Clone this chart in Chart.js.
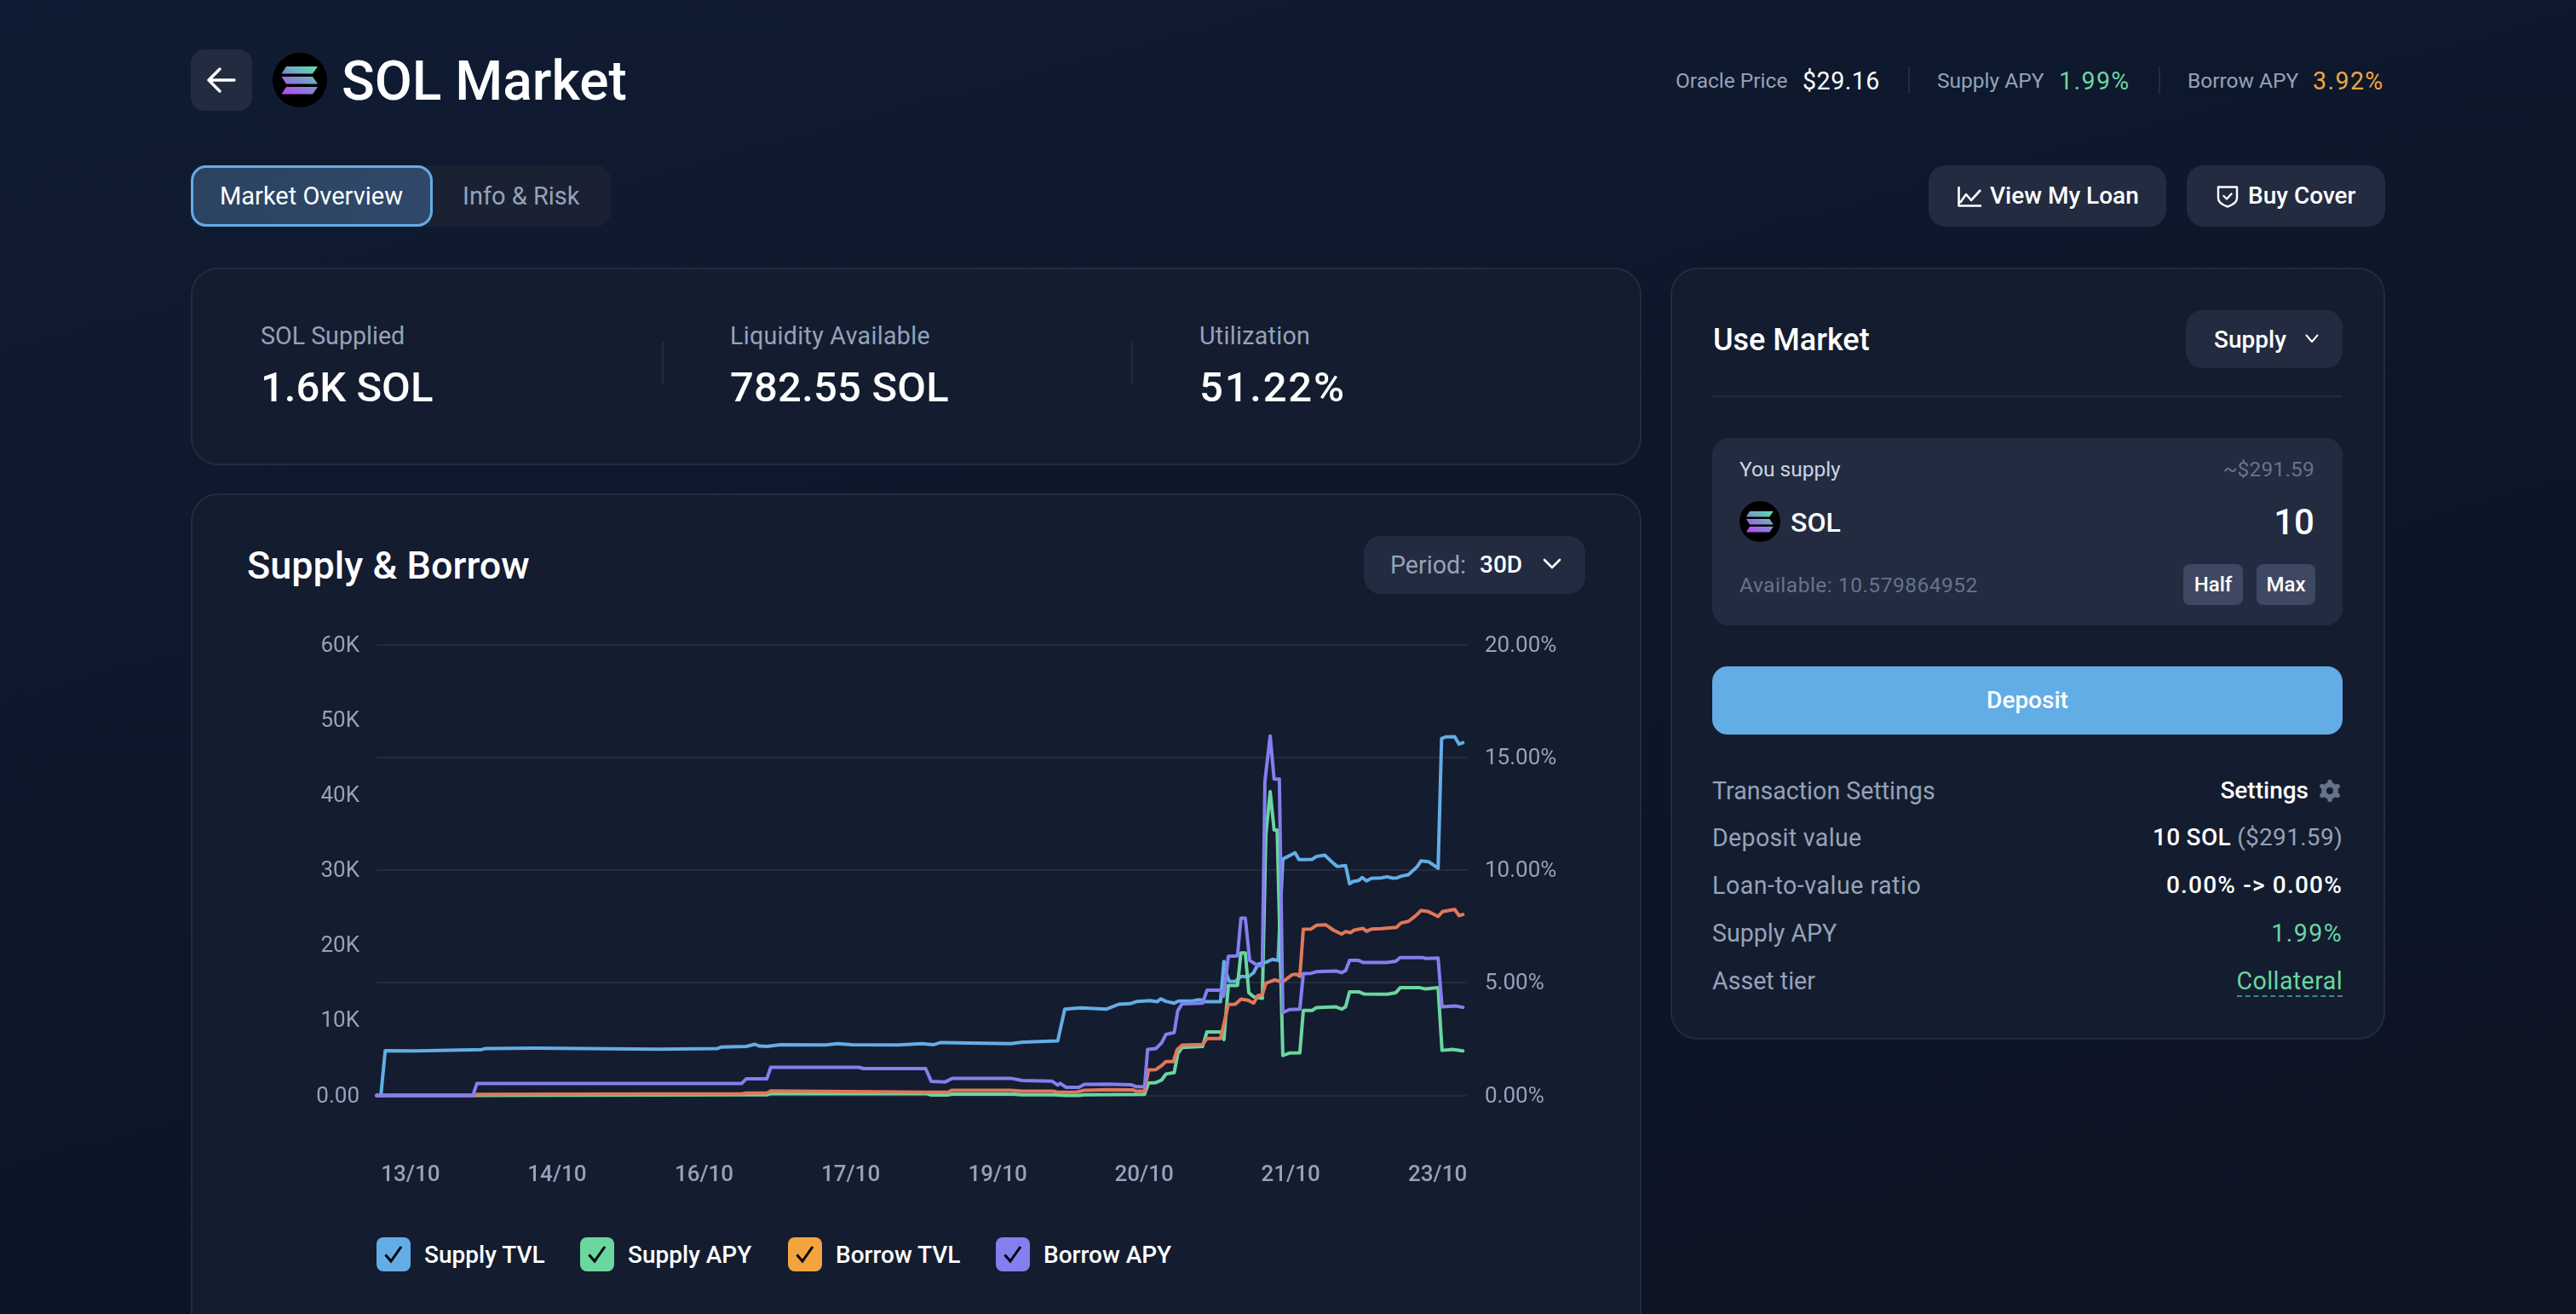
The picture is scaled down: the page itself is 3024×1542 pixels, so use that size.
<!DOCTYPE html>
<html><head><meta charset="utf-8">
<script src="https://cdn.jsdelivr.net/npm/chart.js@4"></script>
<style>
html,body{margin:0;padding:0;width:3024px;height:1542px;overflow:hidden;background:#0e1729}
body{background:linear-gradient(165deg,#101c33 0%,#0e182c 35%,#0c1526 70%,#0d1424 100%);font-family:Roboto,sans-serif;color:#fff;position:relative}
.b{position:absolute;box-sizing:border-box}
.t{position:absolute;white-space:nowrap;transform:translateY(-50%);line-height:1.2}
.m{color:#94a3b8}.d{color:#64748b}.g{color:#6ad6a0}.o{color:#f2a53f}
.card{background:#141c2f;border:2px solid #232b3d;border-radius:32px}
.btn{background:#232b40;border-radius:20px}
.s28{font-size:28.6px}.s24{font-size:24.5px}
.w5{font-weight:500;font-size:28px}
.w5.s24{font-size:24px}
.n{letter-spacing:.9px}
svg{position:absolute;display:block}
.lg{position:absolute;top:1452px;width:40px;height:40px;border-radius:8px}
</style></head><body>
<svg width="0" height="0" style="position:absolute"><defs>
<linearGradient id="sg" x1="0.15" y1="1" x2="0.85" y2="0"><stop offset="0" stop-color="#b44cf0"/><stop offset="0.5" stop-color="#7c8fd0"/><stop offset="1" stop-color="#5ce0a8"/></linearGradient>
<symbol id="sol" viewBox="0 0 64 64"><circle cx="32" cy="32" r="32" fill="#000"/><path fill="url(#sg)" d="M16 16h37l-6 8.500H10.500z M10.500 28h36.500l6 8.500H16z M16 40h37l-6 8.500H10.500z"/></symbol>
</defs></svg>

<div class="b" style="left:224px;top:58px;width:72px;height:72px;background:#232b40;border-radius:16px"></div>
<svg style="left:243px;top:78px" width="34" height="32" viewBox="0 0 34 32" fill="none" stroke="#fff" stroke-width="3.4" stroke-linecap="round" stroke-linejoin="round"><path d="M2 16h30M15 3L2 16l13 13"/></svg>
<svg style="left:320px;top:62px" width="64" height="64"><use href="#sol"/></svg>
<div class="t" style="left:401px;top:96px;font-size:64px;font-weight:500">SOL Market</div>

<div class="t m s24" style="left:1967px;top:95px">Oracle Price</div>
<div class="t s28 n" style="left:2116px;top:95px;letter-spacing:.5px">$29.16</div>
<div class="b" style="left:2240px;top:78px;width:2px;height:32px;background:#232b3d"></div>
<div class="t m s24" style="left:2274px;top:95px">Supply APY</div>
<div class="t g s28 n" style="left:2417px;top:95px;letter-spacing:1.4px">1.99%</div>
<div class="b" style="left:2534px;top:78px;width:2px;height:32px;background:#232b3d"></div>
<div class="t m s24" style="left:2568px;top:95px">Borrow APY</div>
<div class="t o s28 n" style="left:2715px;top:95px;letter-spacing:1.4px">3.92%</div>

<div class="b" style="left:224px;top:194px;width:493px;height:72px;background:#1a2133;border-radius:18px"></div>
<div class="b" style="left:224px;top:194px;width:284px;height:72px;background:linear-gradient(110deg,#2b4361,#30496a);border:3px solid #63ade6;border-radius:18px"></div>
<div class="t" style="left:258px;top:230px;font-size:29px">Market Overview</div>
<div class="t m" style="left:543px;top:230px;font-size:29px">Info &amp; Risk</div>

<div class="b btn" style="left:2264px;top:194px;width:279px;height:72px"></div>
<svg style="left:2298px;top:218px" width="29" height="25" viewBox="0 0 29 25" fill="none" stroke="#fff" stroke-width="2.6" stroke-linejoin="round"><path d="M1.500 1v22.500H28M3 20l7-10 6 7 11-12"/></svg>
<div class="t w5" style="left:2336px;top:230px">View My Loan</div>
<div class="b btn" style="left:2567px;top:194px;width:233px;height:72px"></div>
<svg style="left:2602px;top:217px" width="26" height="27" viewBox="0 0 26 27" fill="none" stroke="#fff" stroke-width="2.4" stroke-linejoin="round" stroke-linecap="round"><path d="M2 2.500h22v13c0 5-5 8-11 10-6-2-11-5-11-10z"/><path d="M8.500 13l3.500 3.500 5.500-6"/></svg>
<div class="t w5" style="left:2639px;top:230px">Buy Cover</div>

<div class="b card" style="left:224px;top:314px;width:1703px;height:232px"></div>
<div class="t m s28" style="left:306px;top:394px">SOL Supplied</div>
<div class="t" style="left:306px;top:455px;font-size:49px;font-weight:500">1.6K SOL</div>
<div class="b" style="left:777px;top:401px;width:2px;height:50px;background:#232b3d"></div>
<div class="t m s28" style="left:857px;top:394px;letter-spacing:.3px">Liquidity Available</div>
<div class="t" style="left:857px;top:455px;font-size:49px;font-weight:500;letter-spacing:.2px">782.55 SOL</div>
<div class="b" style="left:1328px;top:401px;width:2px;height:50px;background:#232b3d"></div>
<div class="t m s28" style="left:1408px;top:394px;letter-spacing:.3px">Utilization</div>
<div class="t" style="left:1408px;top:455px;font-size:49px;font-weight:500;letter-spacing:1.8px">51.22%</div>

<div class="b card" style="left:224px;top:579px;width:1703px;height:1100px"></div>
<div class="t" style="left:290px;top:664px;font-size:45px;font-weight:500">Supply &amp; Borrow</div>
<div class="b btn" style="left:1601px;top:629px;width:260px;height:68px;background:#232b40"></div>
<div class="t m s28" style="left:1632px;top:663px">Period:</div>
<div class="t w5" style="left:1737px;top:663px">30D</div>
<svg style="left:1811px;top:655px" width="22" height="14" viewBox="0 0 22 14" fill="none" stroke="#fff" stroke-width="2.6" stroke-linecap="round" stroke-linejoin="round"><path d="M2 2l9 9 9-9"/></svg>

<canvas id="c" width="1560" height="700" style="position:absolute;left:300px;top:720px;width:1560px;height:700px"></canvas>
<div id="legend"></div>

<div class="b card" style="left:1961px;top:314px;width:839px;height:906px"></div>
<div class="t" style="left:2011px;top:400px;font-size:36px;font-weight:500">Use Market</div>
<div class="b btn" style="left:2566px;top:364px;width:184px;height:68px"></div>
<div class="t w5" style="left:2599px;top:399px">Supply</div>
<svg style="left:2706px;top:392px" width="16" height="11" viewBox="0 0 16 11" fill="none" stroke="#fff" stroke-width="2" stroke-linecap="round" stroke-linejoin="round"><path d="M1.500 1.500L8 9l6.500-7.500"/></svg>
<div class="b" style="left:2010px;top:464px;width:740px;height:2px;background:#232b3d"></div>
<div class="b" style="left:2010px;top:514px;width:740px;height:220px;background:#232b40;border-radius:20px"></div>
<div class="t s24" style="left:2042px;top:551px;color:#cbd5e1">You supply</div>
<div class="t d s24" style="right:307px;top:551px;letter-spacing:.2px">~$291.59</div>
<svg style="left:2042px;top:588px" width="48" height="48"><use href="#sol"/></svg>
<div class="t" style="left:2102px;top:613px;font-size:32px;font-weight:500">SOL</div>
<div class="t" style="right:307px;top:613px;font-size:42px;font-weight:500">10</div>
<div class="t d s24" style="left:2042px;top:687px;letter-spacing:.5px">Available: 10.579864952</div>
<div class="b" style="left:2563px;top:662px;width:70px;height:48px;background:#3f4862;border-radius:8px"></div>
<div class="t w5 s24" style="left:2563px;width:70px;text-align:center;top:686px">Half</div>
<div class="b" style="left:2649px;top:662px;width:69px;height:48px;background:#3f4862;border-radius:8px"></div>
<div class="t w5 s24" style="left:2649px;width:69px;text-align:center;top:686px">Max</div>
<div class="b" style="left:2010px;top:782px;width:740px;height:80px;background:#63ade6;border-radius:18px"></div>
<div class="t w5" style="left:2010px;width:740px;text-align:center;top:822px">Deposit</div>

<div class="t m s28" style="left:2010px;top:928px">Transaction Settings</div>
<div class="t w5" style="right:314px;top:928px">Settings</div>
<svg style="left:2722px;top:915px" width="26" height="26" viewBox="0 0 26 26"><circle cx="13" cy="13" r="7" fill="none" stroke="#64748b" stroke-width="6"/><path stroke="#64748b" stroke-width="5.500" stroke-linecap="round" d="M13 2.500v3M13 20.500v3M3.900 7.700l2.600 1.500M19.500 16.800l2.600 1.500M3.900 18.300l2.600-1.500M19.500 9.200l2.600-1.500"/></svg>
<div class="t m s28" style="left:2010px;top:983px;letter-spacing:.3px">Deposit value</div>
<div class="t w5" style="right:274px;top:983px;letter-spacing:.3px">10 SOL <span class="m" style="font-weight:400">($291.59)</span></div>
<div class="t m s28" style="left:2010px;top:1039px;letter-spacing:.5px">Loan-to-value ratio</div>
<div class="t w5" style="right:274px;top:1039px;letter-spacing:1.2px">0.00% -&gt; 0.00%</div>
<div class="t m s28" style="left:2010px;top:1095px">Supply APY</div>
<div class="t g s28" style="right:274px;top:1095px;letter-spacing:1.400px">1.99%</div>
<div class="t m s28" style="left:2010px;top:1151px">Asset tier</div>
<div class="t g s28" style="right:274px;top:1151px;letter-spacing:.4px">Collateral</div>
<div class="b" style="left:2626px;top:1168px;width:124px;border-top:2px dashed #3f8f6e"></div>

<script>
const seriesNames = ["Supply TVL", "Supply APY", "Borrow TVL", "Borrow APY"];
const legendColors = ["#63ade6", "#6ad6a0", "#f2a53f", "#827fee"];
const legendLefts = [442, 681, 925, 1169];
const lineColors = ["#63ade6", "#6ad6a0", "#e0785a", "#827fee"];
const yLeftTicks = [0, 10, 20, 30, 40, 50, 60];
const yRightTicks = [0, 5, 10, 15, 20];
const xTickHours = [7.8, 41.4, 75.1, 108.7, 142.4, 176, 209.6, 243.3];
const xTickLabels = ["13/10", "14/10", "16/10", "17/10", "19/10", "20/10", "21/10", "23/10"];

const supplyTvlHours = [0,1,2,8.9,24.1,25,36.3,64.7,78.2,79,84.8,86.7,87.8,89.5,92.6,103,105.7,109,119.7,125,127.8,129.4,145.4,148.1,156.2,157.8,161.5,167.4,170.2,172.8,174.4,177.4,179,179.8,181,182.9,183.9,187.1,188.4,189.4,190,193.5,194.3,194.8,195.5,196.9,198.2,199.8,201.1,202.1,204,205.4,206.7,207.8,210.6,211.5,214.5,215.5,217.4,219.4,220.3,222.2,223.1,223.9,225.2,226,227,228.1,230.4,231.7,233,234,235,236.6,238.6,239.5,241.2,243.4,244.2,245.1,247.2,248.2,249.1];
const supplyTvl = [0,0,5.97,5.93,6.11,6.25,6.3,6.16,6.25,6.44,6.53,6.81,6.58,6.53,6.76,6.72,6.9,6.76,6.72,6.9,6.76,7.04,6.9,7.09,7.27,11.49,11.67,11.5,12.14,12.22,12.52,12.63,12.48,12.86,12.52,12.29,12.56,12.56,12.75,12.67,12.48,12.48,17.85,16.34,15.2,15.17,15.85,15.77,16.34,17.47,17.74,18.12,17.97,31.47,32.3,31.39,31.43,31.81,32,30.9,30.48,30.6,28.18,28.48,28.63,29.01,28.56,28.9,28.97,29.12,28.93,28.97,29.2,29.39,30.45,31.24,31.13,30.26,47.54,47.73,47.77,46.78,46.97];

const supplyApyHours = [0,22.1,84.8,89.5,90.4,109,126.1,127.2,131,132,146,148.1,155.1,158.3,161,162.3,176.1,177,178.7,180,181,182.9,183.7,184.7,189.4,190.4,193.5,194.3,195.3,197.4,198.2,199.2,200,201.1,203.1,203.9,204.9,205.8,206.5,207.8,209.3,211.7,212.5,214.5,215.5,220,221.3,222.2,223.1,225.2,226.5,231.7,233.7,234.7,239.2,240.5,243.4,244.3,246.7,249.1];
const supplyApy = [0,0,.03,.03,.08,.08,.08,.02,.02,.06,.06,.03,.03,0,0,.03,.05,.55,.57,.68,.95,1.01,1.85,2.13,2.17,2.82,2.82,2.48,4.88,4.88,6.33,6.33,4.56,4.38,4.31,11.56,13.48,11.78,11.78,1.77,1.88,1.89,3.77,3.77,3.9,3.93,3.83,3.93,4.6,4.6,4.5,4.49,4.56,4.78,4.78,4.73,4.78,2,2.04,1.98];

const borrowTvlHours = [0,22.1,23,83.9,84.8,89.5,90.4,109,126.1,131,132,145.4,148.1,155.1,156.2,160.4,162.3,167.6,173.5,174.1,176.1,177,178.7,180,181,182.7,183.6,184.7,189.4,190.4,193.5,195.3,196.9,198.2,199.8,201.1,202.1,203.1,203.9,206,207,208,209.9,210.9,211.7,212.5,214.3,215.5,217.6,219.4,221.3,222.2,223.3,224.1,226.2,227,228.1,230.4,233.9,234.9,236.6,238.2,239.5,241.2,243.4,244.4,247.2,248.2,249.1];
const borrowTvl = [0,0,.14,.23,.32,.32,.6,.5,.42,.42,.69,.69,.56,.56,.42,.42,.69,.76,.74,.57,.57,3.4,3.44,3.97,4.5,4.5,6.13,6.69,6.77,7.56,7.56,12.1,12.14,12.82,12.67,12.29,13.31,13.39,14.94,15.39,15.2,15.2,16.07,16.15,15.85,22.13,22.16,22.66,22.73,22.01,21.48,21.82,21.67,22.01,22.24,21.86,22.16,22.2,22.39,22.96,23.18,23.9,24.62,24.47,23.83,24.47,24.77,23.94,24.09];

const borrowApyHours = [0,22.1,23,83.7,84.8,89.5,90.4,110.6,111.7,125.9,127.2,130.4,132,145.4,148.1,154.9,156.2,156.7,158.1,161,162.3,167.6,173.1,174.1,176.1,176.8,178.7,180,181,182.9,183.7,184.7,189.4,190.4,193.5,194.2,195.3,197.4,198.2,199.2,200.2,202.1,203.1,203.7,204.9,205.8,207,207.8,209.3,211.7,212.5,214.3,215.5,220,221.3,222.2,223.1,225.2,226.2,231.7,233.7,234.7,239.9,240.5,243.4,244.3,247.4,249.1];
const borrowApy = [0,0,.525,.525,.74,.74,1.25,1.25,1.19,1.19,.62,.6,.76,.76,.66,.63,.46,.54,.36,.36,.49,.5,.47,.39,.39,2.04,2.08,2.33,2.71,2.79,3.75,4.07,4.09,4.67,4.67,4.4,6.17,6.19,7.87,7.87,5.99,5.76,5.76,13.96,15.95,14.04,14.04,3.68,3.81,3.83,5.41,5.42,5.49,5.52,5.45,5.54,5.99,5.99,5.9,5.9,5.96,6.12,6.12,6.08,6.1,3.93,3.97,3.91];

const toPoints = (xs, ys) => xs.map((x, i) => ({ x, y: ys[i] }));
const tick = "#94a3b8", family = "Roboto, sans-serif";

const lg = document.getElementById("legend");
seriesNames.forEach((n, i) => {
  const l = legendLefts[i];
  lg.insertAdjacentHTML("beforeend",
    `<div class="lg" style="left:${l}px;background:${legendColors[i]}"></div>
     <svg style="left:${l + 8}px;top:1461px" width="24" height="22" viewBox="0 0 24 22" fill="none" stroke="#000" stroke-width="3"><path d="M2.500 11.500l6.500 7.500 12-17"/></svg>
     <div class="t w5" style="left:${l + 56}px;top:1473px">${n}</div>`);
});

const ds = (i, xs, ys, axis, order) => ({
  label: seriesNames[i], data: toPoints(xs, ys), yAxisID: axis, order,
  borderColor: lineColors[i], borderWidth: 4, pointRadius: 0, tension: 0,
  borderJoinStyle: "round", borderCapStyle: "round", clip: false, fill: false
});

new Chart(document.getElementById("c"), {
  type: "line",
  data: { datasets: [
    ds(0, supplyTvlHours, supplyTvl, "yL", 4),
    ds(1, supplyApyHours, supplyApy, "yR", 3),
    ds(2, borrowTvlHours, borrowTvl, "yL", 2),
    ds(3, borrowApyHours, borrowApy, "yR", 1)
  ]},
  options: {
    responsive: false, animation: false, devicePixelRatio: 1,
    layout: { padding: { top: 36.7, bottom: 0, left: 0, right: 0 } },
    plugins: { legend: { display: false }, tooltip: { enabled: false } },
    scales: {
      x: {
        type: "linear", min: 0, max: 250,
        grid: { display: false, drawTicks: false }, border: { display: false },
        afterBuildTicks: s => { s.ticks = xTickHours.map(value => ({ value })); },
        afterFit: s => { s.height = 134.5; },
        ticks: { autoSkip: false, maxRotation: 0, padding: 78, color: tick,
          font: { family, size: 26, weight: "500" },
          callback: v => xTickLabels[xTickHours.indexOf(v)] }
      },
      yL: {
        position: "left", min: 0, max: 60,
        grid: { display: false, drawTicks: false }, border: { display: false },
        afterBuildTicks: s => { s.ticks = yLeftTicks.map(value => ({ value })); },
        afterFit: s => { s.width = 142; },
        ticks: { padding: 20, labelOffset: 1.5, color: tick, font: { family, size: 26 },
          callback: v => v === 0 ? "0.00" : v + "K" }
      },
      yR: {
        position: "right", min: 0, max: 20,
        grid: { color: "#232b3d", lineWidth: 2, drawTicks: false }, border: { display: false },
        afterBuildTicks: s => { s.ticks = yRightTicks.map(value => ({ value })); },
        afterFit: s => { s.width = 138; },
        ticks: { padding: 21, labelOffset: 1.5, color: tick, font: { family, size: 26 },
          callback: v => v.toFixed(2) + "%" }
      }
    }
  }
});
</script>
</body></html>
